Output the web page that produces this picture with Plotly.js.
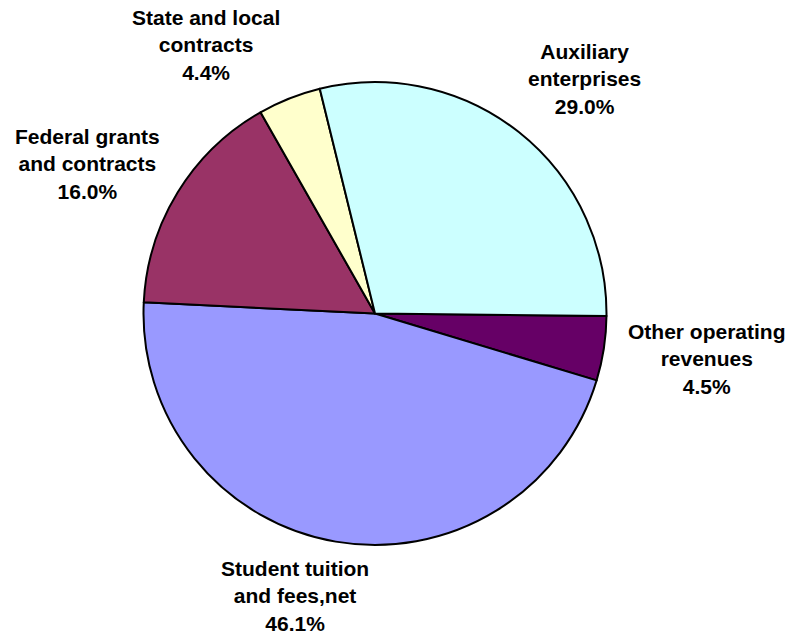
<!DOCTYPE html>
<html>
<head>
<meta charset="utf-8">
<script src="https://cdn.plot.ly/plotly-3.0.1.min.js"></script>
<style>html,body{margin:0;padding:0;background:#fff;}#chart{width:792px;height:634px;}</style>
</head>
<body>
<div id="chart"></div>
<script>
// Data (clockwise from 3 o'clock)
var categories = ['Other operating revenues', 'Student tuition and fees,net', 'Federal grants and contracts', 'State and local contracts', 'Auxiliary enterprises'];
var labelLines = [['Other operating', 'revenues'], ['Student tuition', 'and fees,net'], ['Federal grants', 'and contracts'], ['State and local', 'contracts'], ['Auxiliary', 'enterprises']];
var values = [4.5, 46.1, 16.0, 4.4, 29.0];
var colors = ['#660066', '#9999FF', '#993366', '#FFFFCC', '#CCFFFF'];

// label placement (layout only, paper px)
var W = 792, H = 634;
var labelPos = [[707, 359], [295, 596], [87, 164], [206, 45], [584, 79]];

var trace = {
  type: 'pie',
  labels: categories,
  values: values,
  sort: false,
  direction: 'clockwise',
  rotation: 90.6,
  textinfo: 'none',
  hoverinfo: 'label+percent',
  marker: {colors: colors, line: {color: '#000000', width: 2}},
  domain: {x: [143.5 / W, 606.5 / W], y: [(H - 545) / H, (H - 82) / H]},
  showlegend: false
};

var annotations = categories.map(function (c, i) {
  return {
    xref: 'paper', yref: 'paper',
    x: labelPos[i][0] / W, y: 1 - labelPos[i][1] / H,
    xanchor: 'center', yanchor: 'middle',
    text: labelLines[i].join('<br>') + '<br>' + values[i].toFixed(1) + '%',
    showarrow: false,
    align: 'center',
    font: {family: 'Liberation Sans, Arial, sans-serif', size: 21, color: '#000000', weight: 'bold'}
  };
});

var layout = {
  width: W, height: H,
  margin: {l: 0, r: 0, t: 0, b: 0},
  paper_bgcolor: '#ffffff',
  plot_bgcolor: '#ffffff',
  annotations: annotations
};

Plotly.newPlot('chart', [trace], layout, {displayModeBar: false, staticPlot: true});
</script>
</body>
</html>
